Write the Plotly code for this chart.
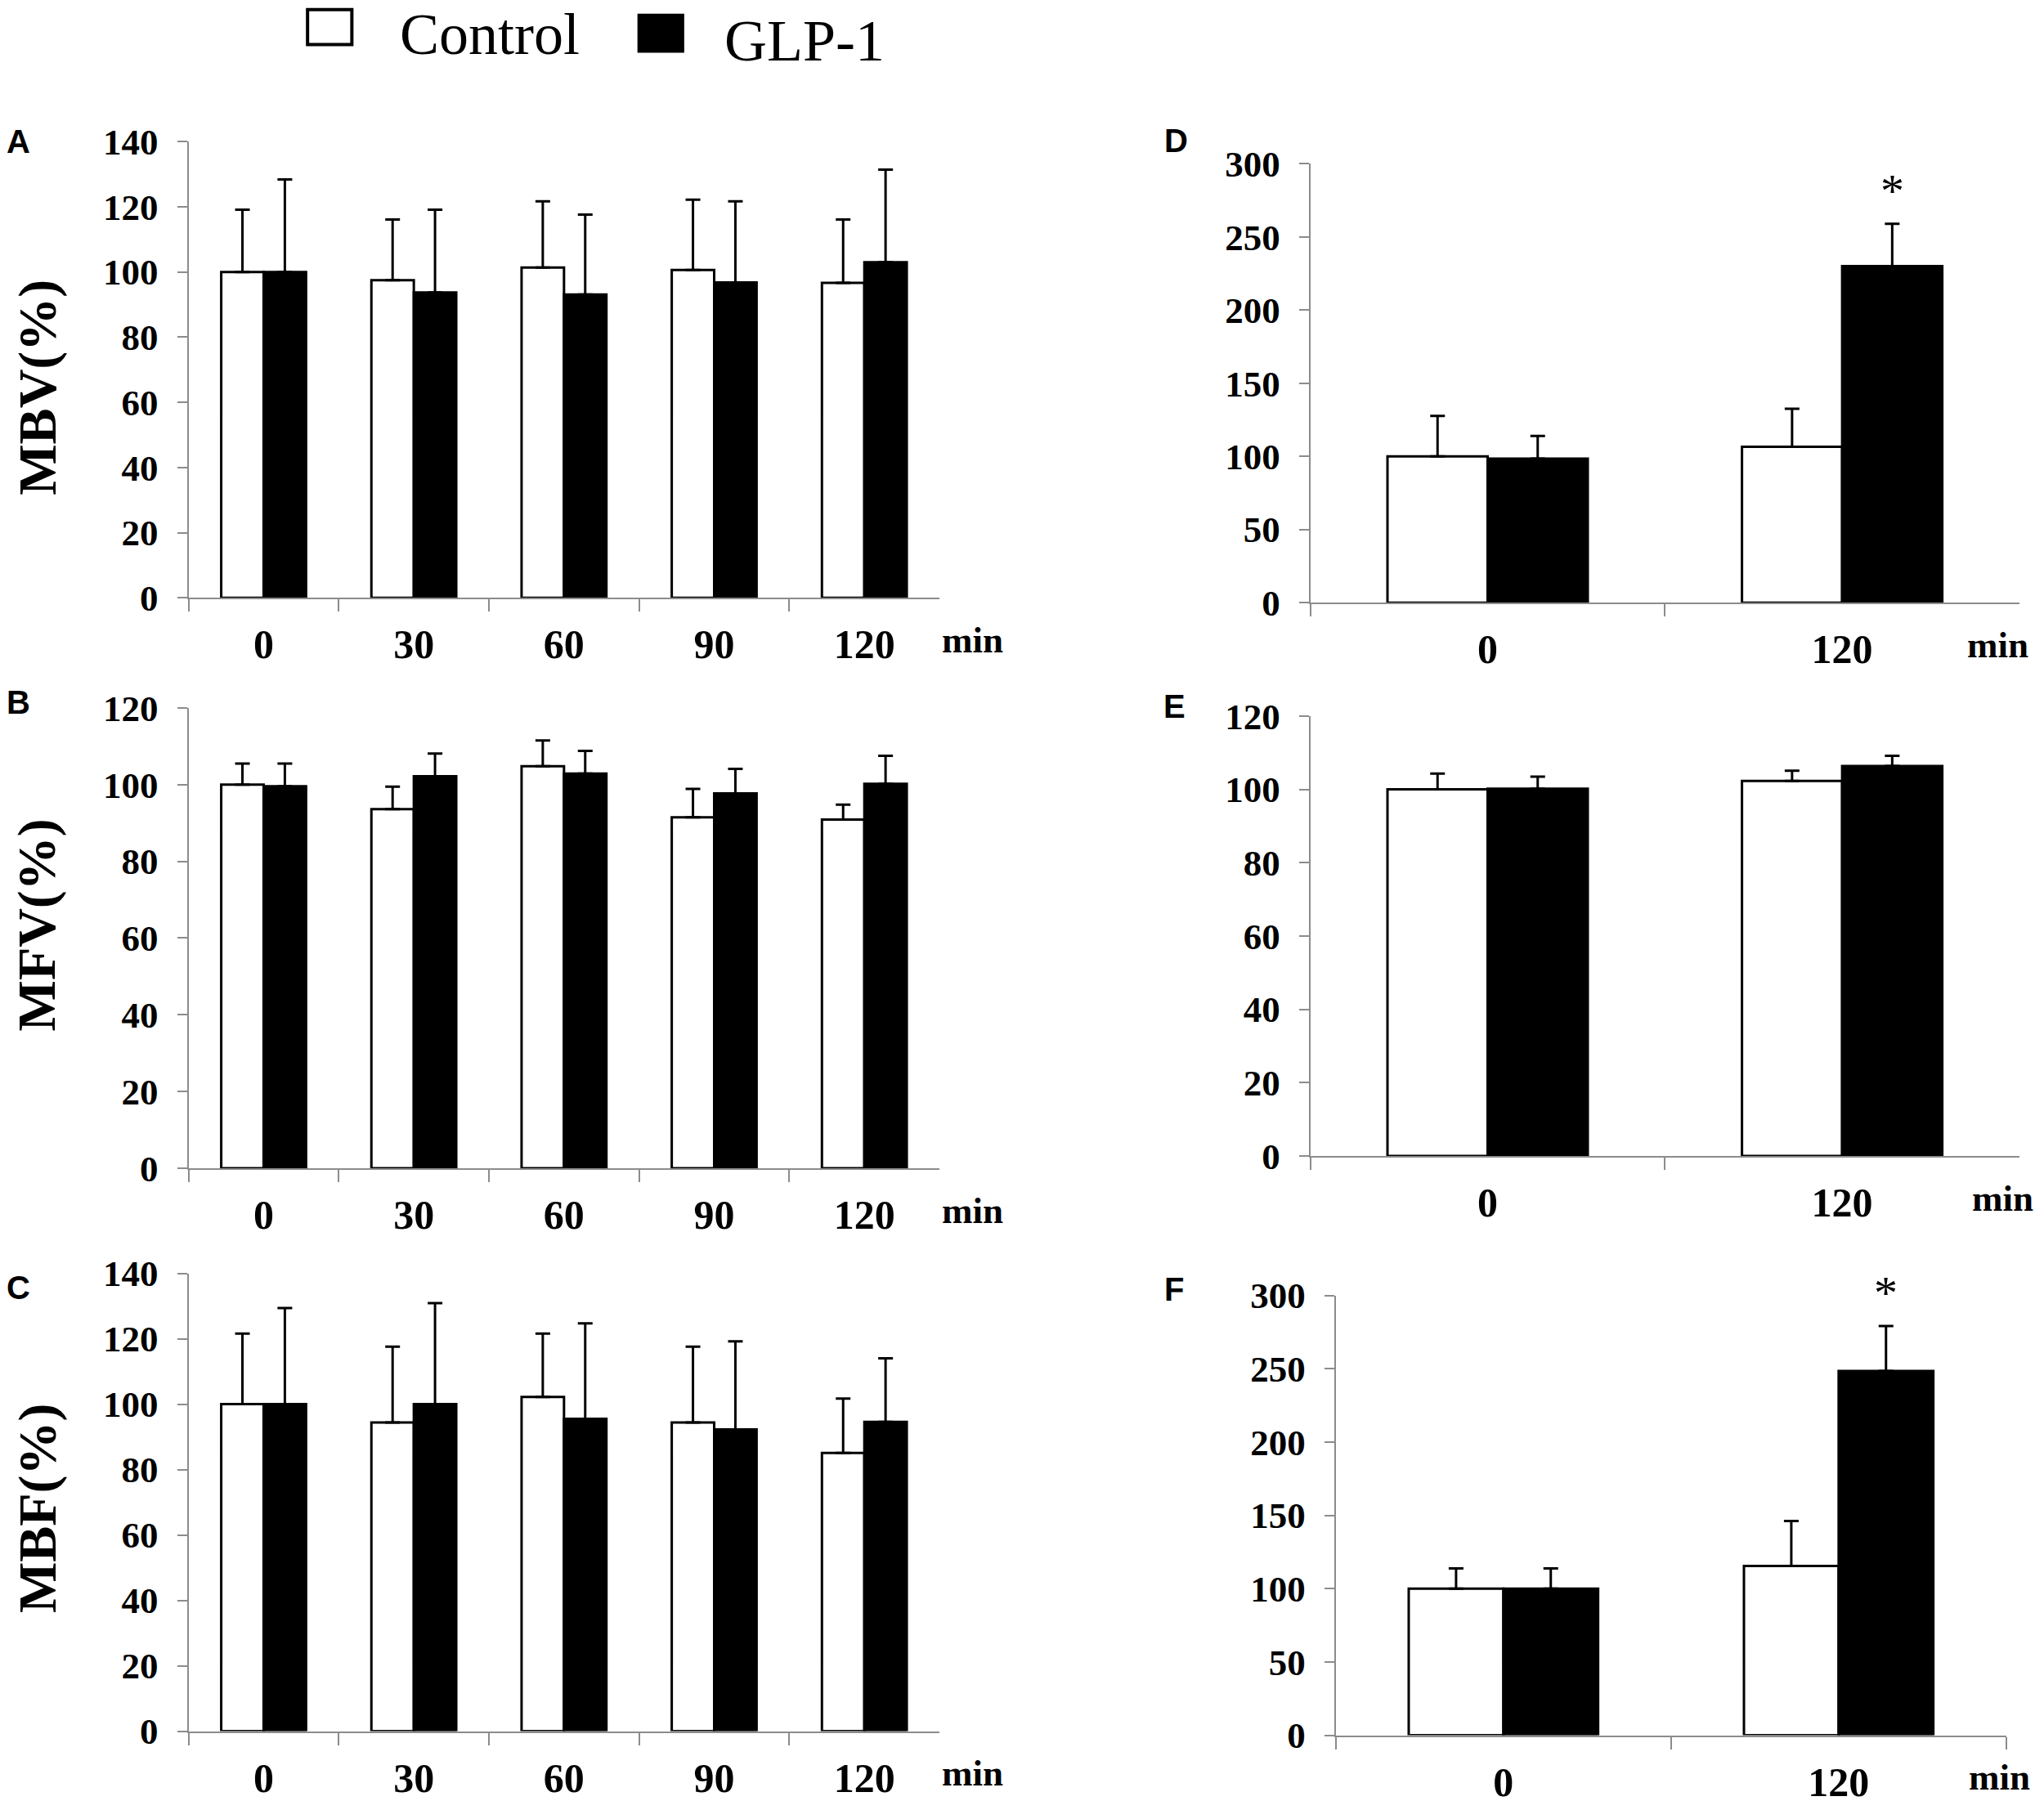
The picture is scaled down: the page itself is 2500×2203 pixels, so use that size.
"""Six-panel bar chart: MBV / MFV / MBF over time, Control vs GLP-1."""

import plotly.graph_objects as go
from plotly.subplots import make_subplots

# time points
times_long = ["0", "30", "60", "90", "120"]
times_short = ["0", "120"]

# A: MBV (%)
mbv_control = [100, 97.5, 101.4, 100.6, 96.7]
mbv_control_sd = [19.1, 18.6, 20.3, 21.6, 19.4]
mbv_glp1 = [100, 93.7, 93.1, 96.8, 103.0]
mbv_glp1_sd = [28.4, 25.4, 24.5, 24.9, 28.4]

# B: MFV (%)
mfv_control = [100, 93.6, 104.8, 91.5, 90.9]
mfv_control_sd = [5.5, 5.9, 6.7, 7.4, 3.9]
mfv_glp1 = [99.6, 102.2, 102.9, 97.7, 100.2]
mfv_glp1_sd = [5.9, 5.9, 5.9, 6.4, 7.3]

# C: MBF (%)
mbf_control = [100, 94.4, 102.2, 94.4, 85.1]
mbf_control_sd = [21.6, 23.2, 19.4, 23.2, 16.6]
mbf_glp1 = [100, 100, 95.5, 92.3, 94.6]
mbf_glp1_sd = [29.4, 30.9, 29.2, 26.9, 19.4]

# D: MBV, 0 vs 120 min
d_control = [100, 106.6]
d_control_sd = [27.6, 25.9]
d_glp1 = [98.4, 230]
d_glp1_sd = [15.5, 29]

# E: MFV, 0 vs 120 min
e_control = [100, 102.3]
e_control_sd = [4.3, 2.8]
e_glp1 = [100.2, 106.4]
e_glp1_sd = [3.3, 2.8]

# F: MBF, 0 vs 120 min
f_control = [100, 115.5]
f_control_sd = [13.8, 30.7]
f_glp1 = [100, 248.4]
f_glp1_sd = [13.8, 30.8]

W, H = 2500, 2203
SERIF = "Liberation Serif, Times New Roman, serif"
SANS = "Liberation Sans, Arial, sans-serif"
AXIS_GREY = "#8c8c8c"


# the page gets photographed with a small offset / rescale, so pixel
# positions measured on the target are mapped back before use
def px_x(v):
    return ((v - 9.2) / 0.9963) / W


def px_y(v):
    return 1 - ((v - 31.4) / 0.9792) / H


# (row, col, cats, control, control sd, glp1, glp1 sd, ymax, dtick,
#  box [x0, x1, ytop, ybottom], letter (x, y), "min" x, y title, star)
panels = [
    (1, 1, times_long, mbv_control, mbv_control_sd, mbv_glp1, mbv_glp1_sd,
     140, 20, (231, 1146, 173, 732), ("A", 24, 173), 1186, "MBV(%)", False),
    (1, 2, times_short, d_control, d_control_sd, d_glp1, d_glp1_sd,
     300, 50, (1598, 2462, 200, 738), ("D", 1434, 172), 2436, None, True),
    (2, 1, times_long, mfv_control, mfv_control_sd, mfv_glp1, mfv_glp1_sd,
     120, 20, (231, 1146, 867, 1431), ("B", 24, 860), 1186, "MFV(%)", False),
    (2, 2, times_short, e_control, e_control_sd, e_glp1, e_glp1_sd,
     120, 20, (1598, 2462, 877, 1416), ("E", 1432, 865), 2442, None, False),
    (3, 1, times_long, mbf_control, mbf_control_sd, mbf_glp1, mbf_glp1_sd,
     140, 20, (231, 1146, 1560, 2121), ("C", 24, 1577), 1186, "MBF(%)", False),
    (3, 2, times_short, f_control, f_control_sd, f_glp1, f_glp1_sd,
     300, 50, (1629, 2446, 1587, 2126), ("F", 1432, 1579), 2438, None, True),
]

fig = make_subplots(rows=3, cols=2)

for idx, (row, col, cats, ctl, ctl_sd, glp, glp_sd, ymax, dtick, box,
          letter, min_x, ytitle, star) in enumerate(panels):
    n = len(cats)
    for name, vals, sd, fill in (("Control", ctl, ctl_sd, "white"),
                                 ("GLP-1", glp, glp_sd, "black")):
        fig.add_trace(
            go.Bar(
                x=cats,
                y=vals,
                name=name,
                marker=dict(color=fill, line=dict(color="black", width=3)),
                error_y=dict(
                    type="data",
                    symmetric=False,
                    array=sd,
                    arrayminus=[0] * n,
                    color="black",
                    thickness=3,
                    width=9,
                ),
                showlegend=False,
            ),
            row=row,
            col=col,
        )

    x0, x1, ytop, ybot = box
    ax = "" if idx == 0 else str(idx + 1)
    fig.layout["xaxis" + ax].update(
        domain=[px_x(x0), px_x(x1)],
        type="category",
        showline=True,
        linecolor=AXIS_GREY,
        linewidth=2,
        ticks="outside",
        tickson="boundaries",
        ticklen=15,
        tickwidth=2,
        tickcolor=AXIS_GREY,
        showgrid=False,
        tickfont=dict(family=SERIF, size=50, color="black", weight="bold"),
        ticklabelstandoff=12,
    )
    fig.layout["yaxis" + ax].update(
        domain=[px_y(ybot), px_y(ytop)],
        range=[0, ymax],
        dtick=dtick,
        showline=True,
        linecolor=AXIS_GREY,
        linewidth=2,
        ticks="outside",
        ticklen=12,
        tickwidth=2,
        tickcolor=AXIS_GREY,
        showgrid=False,
        zeroline=False,
        tickfont=dict(family=SERIF, size=45, color="black", weight="bold"),
        ticklabelstandoff=14,
    )

    # panel letter
    fig.add_annotation(
        x=px_x(letter[1]), y=px_y(letter[2]), xref="paper", yref="paper",
        xanchor="center", yanchor="middle", text="<b>%s</b>" % letter[0],
        showarrow=False, font=dict(family=SANS, size=40, color="black"),
    )
    # "min" unit label
    fig.add_annotation(
        x=px_x(min_x), y=px_y(ybot + 52), xref="paper", yref="paper",
        xanchor="center", yanchor="middle", text="<b>min</b>",
        showarrow=False, font=dict(family=SERIF, size=45, color="black"),
    )
    if ytitle:
        fig.add_annotation(
            x=px_x(47), y=px_y({1: 474, 2: 1133, 3: 1847}[row]),
            xref="paper", yref="paper", xanchor="center", yanchor="middle",
            text="<b>%s</b>" % ytitle, textangle=-90, showarrow=False,
            font=dict(family=SERIF, size=66, color="black"),
        )
    if star:
        fig.add_annotation(
            x=n - 1 + 0.1413, y=glp[-1] + glp_sd[-1], yshift=40,
            xref="x" + ax, yref="y" + ax, xanchor="center", yanchor="middle",
            text="*", showarrow=False,
            font=dict(family=SERIF, size=58, color="black"),
        )

# legend drawn by hand to get the large swatches
fig.add_shape(type="rect", xref="paper", yref="paper",
              x0=px_x(376), x1=px_x(430), y0=px_y(54), y1=px_y(11),
              fillcolor="white", line=dict(color="black", width=4))
fig.add_shape(type="rect", xref="paper", yref="paper",
              x0=px_x(780), x1=px_x(833), y0=px_y(62), y1=px_y(18),
              fillcolor="black", line=dict(color="black", width=4))
fig.add_annotation(x=px_x(598), y=px_y(41), xref="paper", yref="paper",
                   xanchor="center", yanchor="middle",
                   text="Control", showarrow=False,
                   font=dict(family=SERIF, size=72, color="black"))
fig.add_annotation(x=px_x(982), y=px_y(49), xref="paper", yref="paper",
                   xanchor="center", yanchor="middle",
                   text="GLP-1", showarrow=False,
                   font=dict(family=SERIF, size=72, color="black"))

fig.update_layout(
    width=W,
    height=H,
    margin=dict(l=0, r=0, t=0, b=0),
    barmode="group",
    bargap=0.435,
    bargroupgap=0,
    plot_bgcolor="white",
    paper_bgcolor="white",
    showlegend=False,
)

fig.write_html("out.html")
